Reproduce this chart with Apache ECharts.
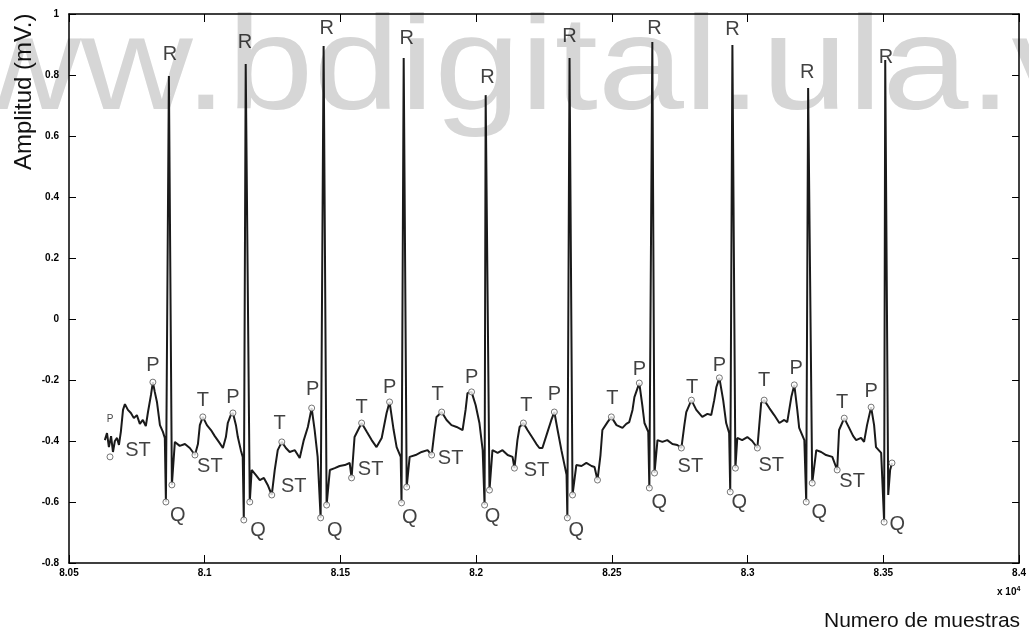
<!DOCTYPE html>
<html>
<head>
<meta charset="utf-8">
<script src="https://cdn.jsdelivr.net/npm/echarts@6/dist/echarts.min.js"></script>
<style>
  html, body { margin: 0; padding: 0; background: #fff; }
  #ecg_chart { width: 1029px; height: 641px; }
</style>
</head>
<body>
<div id="ecg_chart"></div>
<script>
// senal ECG: [numero de muestra, amplitud mV]
var ecg = [
  [80632,-0.397],[80640,-0.374],[80647,-0.420],[80655,-0.384],[80662,-0.436],[80669,-0.400],[80677,-0.390],[80684,-0.413],[80691,-0.370],
  [80699,-0.298],[80706,-0.279],[80717,-0.298],[80728,-0.308],[80739,-0.325],[80750,-0.315],[80761,-0.344],[80772,-0.331],[80783,-0.351],
  [80791,-0.305],[80802,-0.249],[80809,-0.207],[80816,-0.239],[80824,-0.272],[80835,-0.348],[80846,-0.370],[80853,-0.390],
  [80857,-0.600],[80868,0.797],[80879,-0.544],[80890,-0.403],
  [80908,-0.416],[80927,-0.410],[80945,-0.423],[80964,-0.446],[80975,-0.410],[80982,-0.348],[80993,-0.321],[81008,-0.348],[81023,-0.364],
  [81037,-0.384],[81052,-0.403],[81067,-0.423],[81078,-0.387],[81085,-0.341],[81096,-0.315],[81104,-0.308],[81115,-0.348],[81122,-0.387],
  [81133,-0.430],[81140,-0.452],
  [81144,-0.659],[81151,0.836],[81166,-0.600],[81173,-0.495],
  [81188,-0.511],[81203,-0.528],[81218,-0.521],[81232,-0.544],[81247,-0.577],[81258,-0.495],[81269,-0.430],[81284,-0.403],[81299,-0.423],
  [81313,-0.436],[81332,-0.430],[81350,-0.456],[81365,-0.397],[81380,-0.354],[81394,-0.292],[81405,-0.364],[81416,-0.452],
  [81427,-0.652],[81438,0.895],[81449,-0.610],[81461,-0.495],
  [81479,-0.489],[81497,-0.482],[81516,-0.479],[81534,-0.472],[81541,-0.521],[81552,-0.387],[81578,-0.341],[81597,-0.370],[81615,-0.397],
  [81633,-0.420],[81652,-0.390],[81670,-0.308],[81681,-0.272],[81696,-0.364],[81707,-0.420],[81722,-0.452],
  [81725,-0.603],[81733,0.856],[81744,-0.551],[81755,-0.452],
  [81777,-0.446],[81799,-0.436],[81821,-0.430],[81836,-0.446],[81847,-0.364],[81854,-0.321],[81873,-0.305],[81891,-0.331],[81909,-0.348],
  [81928,-0.354],[81950,-0.364],[81961,-0.298],[81968,-0.243],[81983,-0.239],[81998,-0.282],[82012,-0.341],[82024,-0.430],
  [82031,-0.610],[82035,0.734],[82049,-0.561],[82060,-0.430],
  [82079,-0.439],[82097,-0.430],[82116,-0.446],[82134,-0.452],[82141,-0.489],[82152,-0.397],[82160,-0.354],[82174,-0.341],[82189,-0.364],
  [82208,-0.390],[82222,-0.410],[82233,-0.423],[82244,-0.423],[82263,-0.370],[82277,-0.331],[82288,-0.305],[82300,-0.364],[82314,-0.430],
  [82333,-0.511],
  [82336,-0.652],[82344,0.856],[82355,-0.577],[82369,-0.479],
  [82388,-0.482],[82406,-0.472],[82425,-0.482],[82436,-0.485],[82447,-0.528],[82458,-0.446],[82465,-0.364],[82484,-0.338],[82498,-0.321],
  [82517,-0.348],[82539,-0.357],[82553,-0.344],[82564,-0.338],[82576,-0.298],[82583,-0.256],[82601,-0.210],[82612,-0.282],[82620,-0.341],
  [82634,-0.370],
  [82638,-0.554],[82649,0.908],[82657,-0.505],[82668,-0.397],
  [82686,-0.403],[82704,-0.397],[82723,-0.410],[82741,-0.413],[82756,-0.423],[82767,-0.348],[82774,-0.305],[82793,-0.266],[82811,-0.298],
  [82833,-0.321],[82852,-0.311],[82866,-0.315],[82877,-0.266],[82885,-0.223],[82896,-0.193],[82910,-0.266],[82921,-0.341],[82932,-0.374],
  [82936,-0.567],[82944,0.898],[82955,-0.489],[82962,-0.390],
  [82980,-0.397],[82999,-0.387],[83017,-0.400],[83036,-0.423],[83043,-0.348],[83050,-0.275],[83061,-0.266],[83080,-0.292],[83098,-0.315],
  [83117,-0.341],[83135,-0.331],[83146,-0.338],[83161,-0.256],[83172,-0.216],[83183,-0.298],[83190,-0.357],[83209,-0.397],
  [83216,-0.600],[83223,0.757],[83238,-0.538],[83253,-0.430],
  [83271,-0.436],[83289,-0.446],[83312,-0.452],[83330,-0.495],[83337,-0.364],[83356,-0.325],[83374,-0.357],[83389,-0.384],[83400,-0.397],
  [83418,-0.390],[83429,-0.403],[83440,-0.348],[83455,-0.289],[83466,-0.348],[83473,-0.420],[83492,-0.439],
  [83503,-0.666],[83507,0.849],[83518,-0.577],[83525,-0.495],[83532,-0.472]
];

// puntos marcados (circulos)
var pPeaks = [[80809,-0.207],[81104,-0.308],[81394,-0.292],[81681,-0.272],[81983,-0.239],[82288,-0.305],[82601,-0.210],[82896,-0.193],[83172,-0.216],[83455,-0.289]];
var tPeaks = [[80993,-0.321],[81284,-0.403],[81578,-0.341],[81873,-0.305],[82174,-0.341],[82498,-0.321],[82793,-0.266],[83061,-0.266],[83356,-0.325]];
var stPoints = [[80651,-0.452],[80964,-0.446],[81247,-0.577],[81541,-0.521],[81836,-0.446],[82141,-0.489],[82447,-0.528],[82756,-0.423],[83036,-0.423],[83330,-0.495]];
var qPoints = [[80857,-0.600],[81144,-0.659],[81427,-0.652],[81725,-0.603],[82031,-0.610],[82336,-0.652],[82638,-0.554],[82936,-0.567],[83216,-0.600],[83503,-0.666]];
var sPoints = [[80879,-0.544],[81166,-0.600],[81449,-0.610],[81744,-0.551],[82049,-0.561],[82355,-0.577],[82657,-0.505],[82955,-0.489],[83238,-0.538],[83532,-0.472]];

// posiciones de las etiquetas de texto
var rLabels = [[80872,0.866],[81148,0.908],[81449,0.954],[81744,0.921],[82042,0.793],[82344,0.925],[82657,0.954],[82944,0.948],[83220,0.807],[83510,0.859]];
var pLabels = [[80809,-0.151],[81104,-0.256],[81398,-0.230],[81681,-0.223],[81983,-0.193],[82288,-0.249],[82601,-0.167],[82896,-0.151],[83179,-0.161],[83455,-0.239]];
var tLabels = [[80993,-0.266],[81276,-0.341],[81578,-0.289],[81858,-0.249],[82185,-0.282],[82502,-0.259],[82796,-0.226],[83061,-0.203],[83348,-0.275]];
var qLabels = [[80901,-0.643],[81196,-0.692],[81479,-0.692],[81755,-0.652],[82060,-0.649],[82369,-0.692],[82675,-0.600],[82969,-0.603],[83264,-0.633],[83551,-0.675]];
var stLabels = [[80754,-0.430],[81019,-0.482],[81328,-0.548],[81611,-0.492],[81906,-0.456],[82222,-0.498],[82789,-0.485],[83087,-0.479],[83385,-0.534]];
var smallPLabel = [[80651,-0.328]];

var xTicks = { min: 80500, max: 84000, step: 500 };
var yTicks = { min: -0.8, max: 1, step: 0.2 };

var Container = document.getElementById('ecg_chart');
var myChart = echarts.init(Container);

var textFont = 'Liberation Sans';
var tickFont = { fontFamily: textFont, fontSize: 10, fontWeight: 'bold', color: '#000' };

// serie de etiquetas: solo texto en la posicion del dato
var labelSeries = function(points, text, size) {
	return {
		type: 'scatter',
		data: points,
		symbol: 'circle',
		symbolSize: 1,
		itemStyle: { color: 'rgba(0,0,0,0)' },
		silent: true,
		z: 5,
		label: {
			show: true,
			position: 'inside',
			formatter: text,
			fontFamily: textFont,
			fontSize: size || 20,
			color: '#111'
		}
	};
};

var markerSeries = function(points) {
	return {
		type: 'scatter',
		data: points,
		symbol: 'circle',
		symbolSize: 6,
		silent: true,
		z: 4,
		itemStyle: { color: '#fff', borderColor: '#555', borderWidth: 1 }
	};
};

var option = {
	animation: false,
	backgroundColor: '#fff',
	graphic: [
		{
			type: 'text', x: -143, y: 6, scaleY: 0.86, z: -10, silent: true,
			style: { text: 'www.bdigital.ula.ve', fontFamily: textFont, fontSize: 155, fill: '#d6d6d6', align: 'left', verticalAlign: 'top' }
		},
		{
			type: 'text', left: 997, top: 586, silent: true,
			style: {
				text: '{a|x 10}{b|4}',
				rich: {
					a: { fontFamily: textFont, fontSize: 10, fontWeight: 'bold', fill: '#000' },
					b: { fontFamily: textFont, fontSize: 7, fontWeight: 'bold', fill: '#000', verticalAlign: 'top', padding: [0, 0, 6, 0] }
				}
			}
		},
		{
			type: 'text', left: 824, top: 611, silent: true,
			style: { text: 'Numero de muestras', fontFamily: textFont, fontSize: 21, fill: '#111' }
		},
		{
			type: 'text', x: 24, y: 170, rotation: Math.PI / 2, silent: true,
			style: { text: 'Amplitud (mV.)', fontFamily: textFont, fontSize: 24, fill: '#111', align: 'left', verticalAlign: 'middle' }
		}
	],
	grid: { left: 69, right: 8, top: 14, bottom: 78 },
	xAxis: [
		{
			type: 'value', min: xTicks.min, max: xTicks.max, interval: xTicks.step,
			axisLine: { onZero: false, lineStyle: { color: '#000', width: 1.5 } },
			axisTick: { inside: true, length: 8, lineStyle: { color: '#000' } },
			axisLabel: Object.assign({ margin: 5, formatter: function(v) { return String(parseFloat((v / 10000).toFixed(3))); } }, tickFont),
			splitLine: { show: false }
		},
		{
			type: 'value', position: 'top', min: xTicks.min, max: xTicks.max, interval: xTicks.step,
			axisLine: { onZero: false, lineStyle: { color: '#000', width: 1.5 } },
			axisTick: { inside: true, length: 8, lineStyle: { color: '#000' } },
			axisLabel: { show: false },
			splitLine: { show: false }
		}
	],
	yAxis: [
		{
			type: 'value', min: yTicks.min, max: yTicks.max, interval: yTicks.step,
			axisLine: { show: true, onZero: false, lineStyle: { color: '#000', width: 1.5 } },
			axisTick: { show: true, inside: true, length: 7, lineStyle: { color: '#000' } },
			axisLabel: Object.assign({ margin: 10, formatter: function(v) { return String(parseFloat(v.toFixed(1))); } }, tickFont),
			splitLine: { show: false }
		},
		{
			type: 'value', position: 'right', min: yTicks.min, max: yTicks.max, interval: yTicks.step,
			axisLine: { show: true, onZero: false, lineStyle: { color: '#000', width: 1.5 } },
			axisTick: { show: true, inside: true, length: 7, lineStyle: { color: '#000' } },
			axisLabel: { show: false },
			splitLine: { show: false }
		}
	],
	series: [
		{
			type: 'line',
			data: ecg,
			showSymbol: false,
			silent: true,
			z: 3,
			lineStyle: { color: '#1a1a1a', width: 2 }
		},
		markerSeries(pPeaks),
		markerSeries(tPeaks),
		markerSeries(stPoints),
		markerSeries(qPoints),
		markerSeries(sPoints),
		labelSeries(rLabels, 'R'),
		labelSeries(pLabels, 'P'),
		labelSeries(tLabels, 'T'),
		labelSeries(qLabels, 'Q'),
		labelSeries(stLabels, 'ST'),
		labelSeries(smallPLabel, 'P', 10)
	]
};
myChart.setOption(option);
</script>
</body>
</html>
